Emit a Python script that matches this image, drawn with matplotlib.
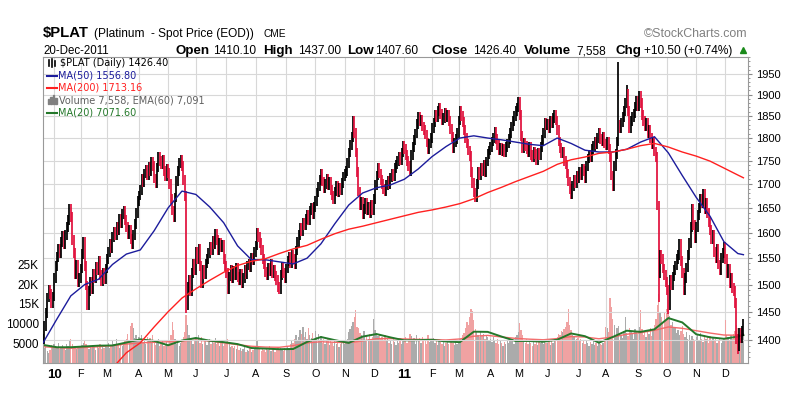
import numpy as np
import matplotlib.pyplot as plt
from matplotlib.lines import Line2D
from matplotlib.patches import Rectangle
from matplotlib.ticker import NullFormatter

plt.rcParams['font.family'] = ['Liberation Sans', 'DejaVu Sans']

# month labels and trading sessions per month (first entry = tail of Dec 2009)
month_labels = ['10', 'F', 'M', 'A', 'M', 'J', 'J', 'A', 'S', 'O', 'N', 'D',
                '11', 'F', 'M', 'A', 'M', 'J', 'J', 'A', 'S', 'O', 'N', 'D']
month_days = [8, 19, 19, 23, 21, 20, 22, 21, 22, 21, 21, 21, 22,
              20, 19, 23, 20, 21, 22, 20, 23, 21, 21, 21, 14]

# daily closes, one line per month
close = [
    1402, 1425, 1448, 1476, 1490, 1482, 1465, 1478,
    1512, 1535, 1552, 1568, 1560, 1582, 1594, 1578, 1596, 1612, 1625, 1648, 1632, 1585, 1560, 1520, 1538, 1505, 1512,
    1530, 1558, 1582, 1535, 1498, 1462, 1488, 1505, 1492, 1520, 1512, 1534, 1528, 1545, 1518, 1506, 1522, 1510, 1530,
    1548, 1562, 1578, 1570, 1592, 1602, 1596, 1612, 1605, 1628, 1620, 1638, 1645, 1625, 1612, 1598, 1606, 1588, 1578, 1596, 1618, 1640, 1665,
    1676, 1688, 1712, 1704, 1722, 1730, 1718, 1736, 1728, 1748, 1738, 1712, 1702, 1735, 1758, 1750, 1742, 1752, 1728, 1716, 1732,
    1724, 1700, 1668, 1645, 1632, 1672, 1706, 1728, 1745, 1752, 1738, 1708, 1675, 1462, 1495, 1508, 1488, 1522, 1540, 1528,
    1562, 1548, 1568, 1535, 1502, 1528, 1520, 1540, 1548, 1560, 1572, 1565, 1584, 1578, 1598, 1585, 1566, 1580, 1572, 1576, 1548, 1535,
    1522, 1492, 1515, 1528, 1512, 1526, 1518, 1532, 1514, 1508, 1520, 1502, 1512, 1528, 1520, 1536, 1540, 1532, 1550, 1546, 1562,
    1575, 1600, 1592, 1580, 1566, 1548, 1538, 1524, 1518, 1532, 1526, 1540, 1522, 1528, 1516, 1508, 1496, 1492, 1518, 1534, 1522, 1512,
    1530, 1545, 1552, 1540, 1556, 1548, 1538, 1565, 1582, 1596, 1610, 1604, 1620, 1615, 1628, 1636, 1626, 1645, 1650, 1638, 1652,
    1665, 1682, 1695, 1708, 1722, 1705, 1692, 1700, 1712, 1698, 1704, 1688, 1676, 1668, 1684, 1696, 1682, 1692, 1686, 1702, 1716,
    1722, 1728, 1745, 1768, 1785, 1802, 1838, 1812, 1768, 1726, 1684, 1655, 1662, 1638, 1648, 1660, 1645, 1652, 1640, 1656, 1645,
    1668, 1698, 1718, 1735, 1722, 1708, 1700, 1690, 1684, 1698, 1706, 1700, 1714, 1722, 1716, 1734, 1742, 1750, 1758, 1752, 1768, 1782,
    1776, 1762, 1750, 1738, 1728, 1762, 1780, 1795, 1810, 1832, 1848, 1838, 1842, 1826, 1818, 1808, 1790, 1776, 1788, 1800,
    1822, 1835, 1852, 1848, 1862, 1870, 1855, 1840, 1846, 1858, 1848, 1852, 1838, 1820, 1802, 1778, 1790, 1798, 1812,
    1840, 1862, 1850, 1836, 1818, 1800, 1788, 1772, 1760, 1725, 1702, 1682, 1672, 1700, 1726, 1718, 1735, 1728, 1740, 1725, 1748, 1765, 1772,
    1780, 1792, 1800, 1814, 1798, 1784, 1772, 1778, 1770, 1776, 1768, 1780, 1788, 1798, 1812, 1826, 1838, 1850, 1862, 1870,
    1882, 1852, 1805, 1778, 1790, 1782, 1776, 1768, 1780, 1762, 1758, 1770, 1764, 1752, 1768, 1762, 1780, 1796, 1812, 1835, 1828,
    1832, 1822, 1840, 1834, 1845, 1852, 1840, 1818, 1792, 1778, 1766, 1770, 1750, 1742, 1722, 1705, 1690, 1678, 1696, 1708, 1702, 1718,
    1712, 1726, 1718, 1732, 1728, 1712, 1738, 1755, 1762, 1758, 1776, 1782, 1792, 1786, 1800, 1812, 1798, 1794, 1802, 1788,
    1784, 1792, 1775, 1758, 1718, 1695, 1738, 1765, 1792, 1830, 1822, 1835, 1848, 1862, 1880, 1902, 1862, 1822, 1838, 1848, 1856, 1872, 1886,
    1872, 1898, 1880, 1852, 1838, 1826, 1835, 1812, 1818, 1800, 1786, 1792, 1770, 1758, 1655, 1522, 1556, 1548, 1530, 1518, 1505,
    1490, 1462, 1508, 1498, 1515, 1528, 1536, 1548, 1556, 1578, 1545, 1522, 1490, 1512, 1532, 1556, 1580, 1612, 1648, 1615, 1590,
    1612, 1635, 1650, 1668, 1660, 1680, 1648, 1660, 1640, 1622, 1605, 1588, 1596, 1562, 1550, 1568, 1538, 1528, 1550, 1560, 1572,
    1548, 1522, 1530, 1502, 1512, 1494, 1488, 1466, 1402, 1390, 1412, 1404, 1415.9, 1426.4,
]

# session highs / lows that stick out beyond the close-to-close range
spike_high = {414: 1978, 420: 1922, 504: 1437.0}
spike_low = {103: 1447, 443: 1468, 450: 1446, 500: 1376, 504: 1407.6}

# daily volume, in hundreds of contracts
volume = [
    52, 38, 41, 30, 25, 34, 46, 40,
    48, 44, 39, 52, 36, 41, 45, 38, 33, 47, 42, 55, 60, 48, 37, 43, 35, 40, 44,
    39, 46, 52, 58, 49, 44, 36, 41, 38, 45, 40, 33, 42, 37, 48, 35, 43, 39, 46,
    41, 52, 38, 45, 56, 49, 43, 60, 47, 39, 51, 44, 48, 55, 62, 74, 58, 95, 102, 88, 64, 71, 59,
    66, 58, 72, 54, 61, 48, 67, 55, 63, 50, 70, 57, 46, 52, 61, 44, 49, 56, 42, 47, 53,
    45, 58, 72, 104, 85, 62, 48, 53, 44, 51, 57, 66, 78, 121, 96, 70, 58, 62, 49, 55,
    64, 58, 71, 52, 66, 49, 57, 60, 45, 53, 62, 48, 56, 51, 63, 47, 55, 42, 50, 58, 44, 49,
    52, 61, 47, 40, 44, 38, 42, 35, 46, 33, 39, 30, 36, 41, 28, 34, 31, 37, 29, 33, 38,
    44, 58, 40, 36, 31, 39, 34, 28, 37, 33, 42, 30, 35, 38, 29, 36, 41, 32, 39, 34, 30, 37,
    36, 42, 39, 48, 55, 50, 62, 71, 58, 66, 84, 73, 92, 65, 78, 60, 88, 70, 64, 75, 58,
    82, 66, 74, 59, 68, 52, 61, 48, 55, 63, 45, 58, 50, 44, 56, 49, 53, 41, 47, 58, 52,
    48, 55, 62, 78, 86, 95, 104, 118, 134, 92, 88, 76, 71, 65, 80, 59, 68, 62, 74, 57, 66,
    112, 84, 76, 68, 72, 61, 66, 55, 70, 58, 63, 52, 57, 49, 61, 54, 46, 59, 51, 64, 48, 56,
    58, 66, 52, 60, 74, 69, 55, 63, 48, 72, 58, 64, 51, 67, 56, 62, 49, 70, 54, 61,
    57, 63, 50, 58, 46, 61, 54, 49, 56, 44, 52, 59, 47, 55, 62, 51, 45, 53, 48,
    54, 62, 58, 70, 76, 88, 104, 96, 118, 138, 132, 110, 86, 78, 72, 65, 80, 68, 74, 62, 70, 66, 58,
    60, 54, 66, 58, 52, 61, 48, 56, 50, 44, 53, 47, 58, 51, 62, 55, 60, 49, 67, 72,
    78, 102, 84, 70, 58, 52, 61, 47, 55, 50, 44, 57, 49, 53, 46, 58, 51, 55, 48, 60, 52,
    50, 58, 46, 55, 52, 60, 57, 66, 74, 70, 82, 78, 86, 92, 104, 138, 96, 84, 72, 66, 58, 62,
    64, 56, 60, 52, 58, 47, 55, 50, 44, 53, 48, 57, 46, 51, 42, 55, 49, 45, 52, 58,
    92, 88, 78, 165, 142, 112, 96, 70, 88, 94, 58, 72, 64, 80, 118, 76, 68, 90, 82, 74, 62, 86, 79,
    74, 92, 134, 86, 70, 78, 66, 82, 74, 90, 68, 85, 96, 112, 148, 176, 130, 118, 104, 126, 110,
    138, 160, 120, 96, 104, 88, 92, 76, 84, 70, 80, 95, 74, 66, 78, 62, 70, 58, 68, 61, 55,
    66, 72, 58, 75, 62, 54, 70, 60, 65, 52, 68, 58, 63, 55, 61, 50, 57, 64, 52, 58, 62,
    108, 72, 66, 58, 70, 62, 74, 80, 96, 88, 68, 64, 71, 75.58,
]

# moving averages, one value every 10 sessions plus the last session
ma50 = [1395, 1437, 1479, 1500, 1510, 1538, 1558, 1566, 1604, 1650, 1685, 1678, 1652,
        1620, 1574, 1547, 1547, 1543, 1539, 1550, 1578, 1618, 1656, 1681, 1692, 1698,
        1710, 1732, 1759, 1781, 1800, 1805, 1800, 1796, 1791, 1786, 1783, 1800, 1788,
        1773, 1769, 1769, 1775, 1791, 1803, 1767, 1718, 1672, 1633, 1582, 1559, 1556.8]
# MA(200) from session 50 on (it is below the chart before that)
ma200 = [1352, 1378, 1395, 1423, 1450, 1475, 1492, 1508, 1523, 1536, 1544, 1549, 1559,
         1568, 1575, 1587, 1598, 1607, 1613, 1620, 1627, 1634, 1641, 1646, 1652, 1659,
         1669, 1682, 1693, 1705, 1716, 1727, 1742, 1752, 1758, 1766, 1769, 1775, 1783,
         1788, 1780, 1769, 1760, 1749, 1734, 1719, 1713.16]
vol_ma20 = [46, 40, 40, 42, 44, 44.5, 52, 60, 56, 45, 57, 63.5, 56.5, 53, 48, 38, 36.5,
            35, 35.5, 53.5, 66, 58, 51, 67, 73.5, 65, 57.5, 58, 59, 54.5, 53, 79.5, 79,
            67, 55.8, 55.8, 54, 59, 75, 68, 51.5, 66, 82, 79, 85.5, 114, 103, 73, 65.2,
            61.5, 67, 70.716]
vol_ema60 = [41.5, 39, 37.5, 39.5, 41.3, 44, 48, 51, 52.5, 54, 56, 58, 55.5, 51, 46.5,
             42.5, 40.5, 39.9, 44, 51, 54, 52.5, 51.5, 56, 61.5, 62, 61, 60, 59.5, 58.5,
             61, 68, 70, 66, 62.5, 60.5, 59, 62, 67, 66, 61.5, 66, 73, 77, 83, 91.5, 88,
             82, 76, 71, 70.5, 70.91]

price_ticks = [1400, 1450, 1500, 1550, 1600, 1650, 1700, 1750, 1800, 1850, 1900, 1950]
vol_ticks = [50, 100, 150, 200, 250]
vol_tick_labels = ['5000', '10000', '15K', '20K', '25K']

# ---------------------------------------------------------------------------
W, H = 795, 393
close = np.array(close, dtype=float)
volume = np.array(volume, dtype=float)
n = len(close)
x = np.arange(n)
prev = np.r_[close[0], close[:-1]]
up = close >= prev
# bar range: previous close to close, widened a little to stand in for intraday range
lo = np.minimum(prev, close) * 0.994
hi = np.maximum(prev, close) * 1.006
for k, v in spike_high.items():
    if k < n:
        hi[k] = v
for k, v in spike_low.items():
    if k < n:
        lo[k] = v

month_start = np.cumsum([0] + month_days[:-1])[1:]
step_x = list(range(0, 501, 10)) + [504]

fig = plt.figure(figsize=(W / 100, H / 100), dpi=100)
ax = fig.add_axes([43 / W, 30 / H, 705 / W, 306 / H])
axp = ax.twinx()

# volume (bottom layer)
vcol = np.where(up, '#ababab', '#f0a2a2')
ax.bar(x, volume, width=0.95, color=vcol, linewidth=0, zorder=2)
ax.plot(step_x, vol_ema60, color='#f46a6a', lw=1.0, zorder=3)
ax.plot(step_x, vol_ma20, color='#24782a', lw=1.4, zorder=4)
ax.set_ylim(0, 776.6)
ax.set_xlim(0, 507.3)
ax.set_yticks(vol_ticks, labels=vol_tick_labels)
ax.tick_params(axis='y', length=0, pad=3, labelsize=8.5)
ax.set_xticks(month_start, labels=month_labels)
ax.tick_params(axis='x', length=0, pad=4, labelsize=7.8)
for lab in ax.get_xticklabels():
    if lab.get_text() in ('10', '11'):
        lab.set_fontweight('bold')
        lab.set_fontsize(9.5)
ax.grid(axis='x', color='#d8d8d8', lw=0.8)
ax.set_axisbelow(True)
for s in ax.spines.values():
    s.set_visible(False)

# price (top layer)
axp.set_yscale('log')
axp.set_ylim(1360.5, 1991)
axp.set_yticks(price_ticks, labels=[str(t) for t in price_ticks])
axp.set_yticks(list(range(1370, 1991, 10)), minor=True)
axp.yaxis.set_minor_formatter(NullFormatter())
axp.tick_params(axis='y', which='major', length=3, pad=3, labelsize=8, color='#888888')
axp.tick_params(axis='y', which='minor', length=1.5, color='#888888')
axp.grid(axis='y', which='major', color='#d8d8d8', lw=0.8)
axp.set_axisbelow(True)
for s in axp.spines.values():
    s.set_color('#999999')
    s.set_linewidth(0.8)

pcol = np.where(up, '#000000', '#e0103c')
axp.vlines(x, lo, hi, colors=pcol, linewidth=1.25, zorder=3)
axp.plot(step_x, ma50, color='#1c1c9c', lw=1.0, zorder=4)
axp.plot(step_x[5:], ma200, color='#ff2020', lw=1.0, zorder=4)


def fx(px):
    return px / W


def fy(py):
    return 1 - py / H


# header
fig.text(fx(43), fy(37), '$PLAT', fontsize=10.7, fontweight='bold')
fig.text(fx(94), fy(37), '(Platinum  - Spot Price (EOD))', fontsize=8.6)
fig.text(fx(263), fy(37), 'CME', fontsize=7.3)
fig.text(fx(747), fy(37), '\u00a9StockCharts.com', fontsize=8.9, color='#808080', ha='right')
fig.text(fx(43), fy(54), '20-Dec-2011', fontsize=8.3)
header = [('Open', 175, 213, '1410.10'), ('High', 263, 298, '1437.00'),
          ('Low', 347, 375, '1407.60'), ('Close', 432, 473, '1426.40'),
          ('Volume', 524, 576, '7,558'), ('Chg', 616, 644, '+10.50 (+0.74%)')]
for lab, x0, x1, val in header:
    fig.text(fx(x0), fy(54), lab, fontsize=9.6, fontweight='bold')
    fig.text(fx(x1), fy(54), val, fontsize=8.6)
fig.add_artist(Line2D([fx(742.5)], [fy(50)], marker='^', color='#1a8a1a', markersize=5,
                      transform=fig.transFigure))

# legend inside the chart
leg_font = dict(fontsize=7, family='DejaVu Sans', va='center')
fig.text(fx(60), fy(63.5), '$PLAT (Daily) 1426.40', color='black', **leg_font)
for bx, b0, b1 in [(48.5, 60, 66), (51.5, 59, 67), (54.5, 61, 66)]:
    fig.add_artist(Line2D([fx(bx), fx(bx)], [fy(b0), fy(b1)], color='black', lw=1.2,
                          transform=fig.transFigure))
legend_lines = [(76, 'MA(50) 1556.80', '#1c1c9c'), (88, 'MA(200) 1713.16', '#ff2020'),
                (112.5, 'MA(20) 7071.60', '#24782a')]
for ly, txt, c in legend_lines:
    fig.add_artist(Line2D([fx(47), fx(57)], [fy(ly), fy(ly)], color=c, lw=1.5,
                          transform=fig.transFigure))
    fig.text(fx(58), fy(ly), txt, color=c, **leg_font)
for bx, bh in [(47.5, 5), (50, 7), (52.5, 9), (55, 6)]:
    fig.add_artist(Rectangle((fx(bx), fy(104)), 1.6 / W, bh / H, color='#808080',
                             transform=fig.transFigure))
fig.text(fx(59), fy(100.5), 'Volume 7,558, EMA(60) 7,091', color='#606060', **leg_font)

fig.savefig('out.png', dpi=100)
